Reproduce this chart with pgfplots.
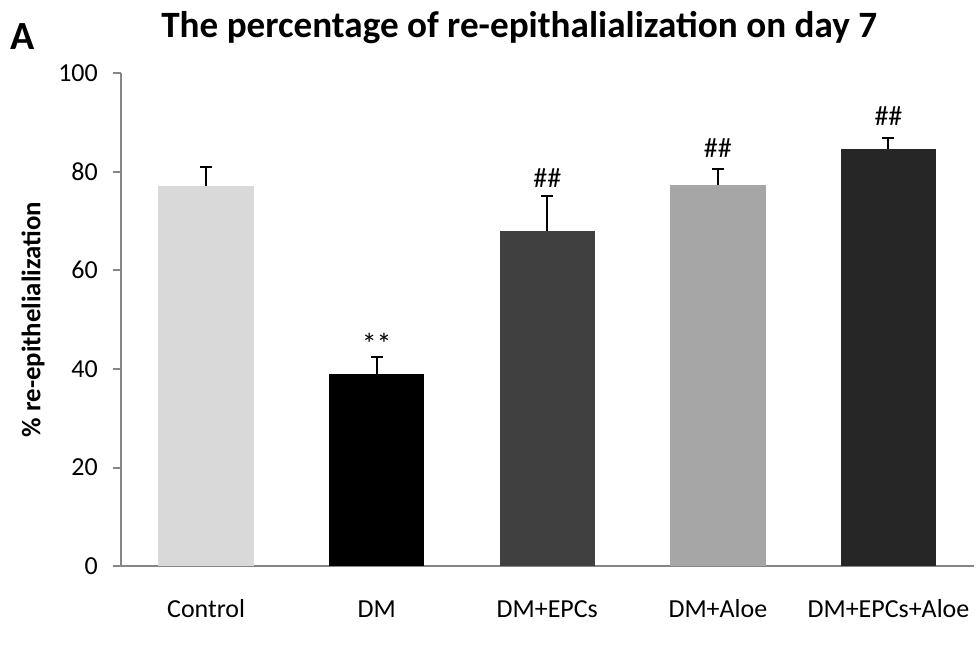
\documentclass[border=0pt]{standalone}
\usepackage{pgfplots}
\pgfplotsset{compat=1.18}
\usepackage{fontspec}
\setmainfont{Carlito}
\definecolor{axgray}{HTML}{868686}
\definecolor{cA}{HTML}{D9D9D9}
\definecolor{cB}{HTML}{000000}
\definecolor{cC}{HTML}{404040}
\definecolor{cD}{HTML}{A6A6A6}
\definecolor{cE}{HTML}{262626}
\begin{document}
\begin{tikzpicture}
\begin{axis}[
  at={(0,0)}, anchor=south west,
  scale only axis, width=427pt, height=247pt,
  xmin=-0.5, xmax=4.5, ymin=0, ymax=100,
  ytick={0,20,...,100},
  xtick={0,1,2,3,4},
  xticklabels={Control,DM,DM+EPCs,DM+Aloe,DM+EPCs+Aloe},
  axis x line*=bottom, axis y line*=left,
  axis line style={axgray, line width=1pt, -},
  x tick style={draw=none},
  y tick style={axgray, line width=1pt},
  tick align=outside, major tick length=4pt,
  ticklabel style={font=\fontsize{13}{15}\selectfont},
  yticklabel style={xshift=-4pt},
  xticklabel style={anchor=base, yshift=-21.5pt},
  /pgf/number format/assume math mode=true,
  ybar, bar width=0.56, bar shift=0pt,
  clip=false,
  error bars/y dir=plus, error bars/y explicit,
  error bars/error bar style={black, line width=1pt},
  error bars/error mark options={rotate=90, black, mark size=3pt, line width=1pt},
]
\addplot[fill=cA, draw=none] coordinates {(0,77.1) +- (0,3.8)};
\addplot[fill=cB, draw=none] coordinates {(1,39.0) +- (0,3.4)};
\addplot[fill=cC, draw=none] coordinates {(2,68.0) +- (0,7.0)};
\addplot[fill=cD, draw=none] coordinates {(3,77.3) +- (0,3.2)};
\addplot[fill=cE, draw=none] coordinates {(4,84.6) +- (0,2.2)};
\node[font=\fontsize{15}{16}\selectfont] at (axis cs:1,45.0) {**};
\node[font=\fontsize{14}{16}\selectfont] at (axis cs:2,78.7) {\#\#};
\node[font=\fontsize{14}{16}\selectfont] at (axis cs:3,84.7) {\#\#};
\node[font=\fontsize{14}{16}\selectfont] at (axis cs:4,91.2) {\#\#};
\node[rotate=90, font=\bfseries\fontsize{13.4}{15}\selectfont] at (rel axis cs:0,0.5) [yshift=44pt] {\% re-epithelialization};
\node[font=\bfseries\fontsize{18.6}{20}\selectfont, anchor=base] at (rel axis cs:0.467,1) [yshift=17.5pt] {The percentage of re-epithalialization on day 7};
\node[font=\bfseries\fontsize{20}{22}\selectfont, anchor=base] at (rel axis cs:-0.1153,1) [yshift=11.5pt] {A};
\end{axis}
\path[use as bounding box] (-60.5pt,-49.5pt) rectangle (427.5pt,283.5pt);
\end{tikzpicture}
\end{document}
